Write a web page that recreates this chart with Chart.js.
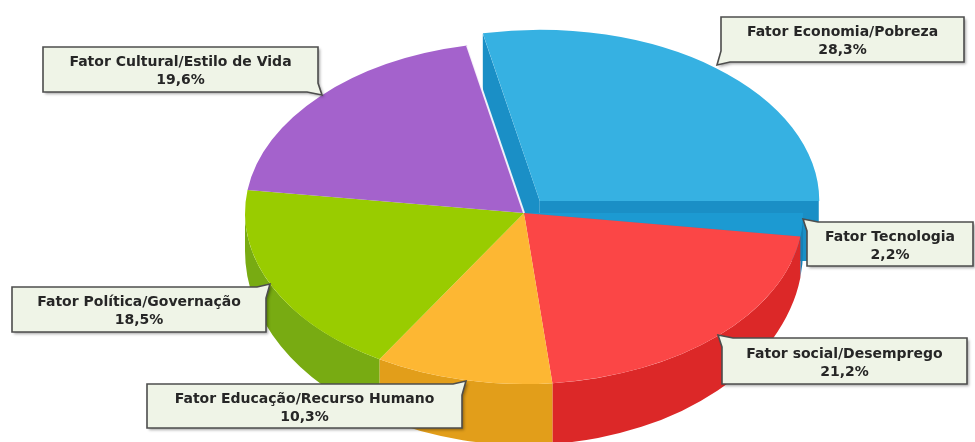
<!DOCTYPE html>
<html lang="pt">
<head>
<meta charset="utf-8">
<title>Fatores</title>
<script src="https://cdn.jsdelivr.net/npm/chart.js@4.4.1/dist/chart.umd.min.js"></script>
<style>
  html, body { margin: 0; padding: 0; background: #fff; }
  #wrap { position: relative; width: 975px; height: 442px; }
</style>
</head>
<body>
<div id="wrap"><canvas id="pieChart"></canvas></div>
<script>
const categories = [
    'Fator Economia/Pobreza',
    'Fator Tecnologia',
    'Fator social/Desemprego',
    'Fator Educação/Recurso Humano',
    'Fator Política/Governação',
    'Fator Cultural/Estilo de Vida'
];
const values = [28.3, 2.2, 21.2, 10.3, 18.5, 19.6];
const explode = [25, 0, 0, 0, 0, 0];

const topColors  = ['#36b1e2', '#1c9ad2', '#fb4646', '#fdb733', '#99cc00', '#a462cc'];
const sideColors = ['#1a8fc6', '#1580b5', '#dc2828', '#e29e1a', '#78ab12', '#8346ad'];

// caixas das etiquetas: posição, tamanho e canto com a ponta
const callouts = [
    { x: 721, y: 17,  w: 243, h: 45, tail: 'bl' },
    { x: 807, y: 222, w: 166, h: 44, tail: 'tl' },
    { x: 722, y: 338, w: 245, h: 46, tail: 'tl' },
    { x: 147, y: 384, w: 315, h: 44, tail: 'tr' },
    { x: 12,  y: 287, w: 254, h: 45, tail: 'tr' },
    { x: 43,  y: 47,  w: 275, h: 45, tail: 'br' }
];

const total = values.reduce((a, b) => a + b, 0);
const fmt = v => v.toFixed(1).replace('.', ',') + '%';
const TAU = Math.PI * 2;

const shiftOf = arc => {
    const off = (arc.options.offset || 0) / 4;
    const mid = (arc.startAngle + arc.endAngle) / 2;
    return { dx: Math.cos(mid) * off, dy: Math.sin(mid) * off };
};

// paredes laterais + inclinação do topo (efeito 3D)
const pie3d = {
    id: 'pie3d',
    beforeDatasetsDraw(chart, args, o) {
        const ctx = chart.ctx;
        const arcs = chart.getDatasetMeta(0).data;
        const cx = arcs[0].x, cy = arcs[0].y;
        const k = o.tilt, k2 = o.tiltBase;

        // faces radiais das fatias destacadas
        arcs.forEach((arc, i) => {
            const s = shiftOf(arc);
            if (!s.dx && !s.dy) return;
            const r = arc.outerRadius;
            const ex = arc.x + s.dx, ey = cy + k * s.dy;
            ctx.fillStyle = sideColors[i];
            [arc.startAngle, arc.endAngle].forEach((a, j) => {
                const facing = j === 0 ? -Math.cos(a) : Math.cos(a);
                if (facing <= 0) return;
                const rx = ex + r * Math.cos(a), ry = ey + k * r * Math.sin(a);
                ctx.beginPath();
                ctx.moveTo(ex, ey);
                ctx.lineTo(rx, ry);
                ctx.lineTo(rx, ry + o.wallDepth);
                ctx.lineTo(ex, ey + o.wallDepth);
                ctx.closePath();
                ctx.fill();
            });
        });

        // parede externa (só a metade da frente)
        arcs.forEach((arc, i) => {
            const s = shiftOf(arc);
            const r = arc.outerRadius;
            const ex = arc.x + s.dx, ey = cy + k * s.dy;
            let a0 = arc.startAngle % TAU;
            if (a0 < 0) a0 += TAU;
            const a1 = a0 + (arc.endAngle - arc.startAngle);
            [[0, Math.PI], [TAU, TAU + Math.PI]].forEach(([lo, hi]) => {
                const from = Math.max(a0, lo), to = Math.min(a1, hi);
                if (to - from < 1e-4) return;
                ctx.beginPath();
                ctx.ellipse(ex, ey, r, k * r, 0, from, to, false);
                ctx.ellipse(ex, ey + o.depth, r, k2 * r, 0, to, from, true);
                ctx.closePath();
                ctx.fillStyle = sideColors[i];
                ctx.fill();
            });
        });

        ctx.save();
        ctx.translate(cx, cy);
        ctx.scale(1, k);
        ctx.translate(-cx, -cy);
    },
    afterDatasetsDraw(chart) {
        const ctx = chart.ctx;
        // filete claro onde a fatia destacada se separa da vizinha
        chart.getDatasetMeta(0).data.forEach(arc => {
            const s = shiftOf(arc);
            const a = arc.startAngle;
            if ((!s.dx && !s.dy) || -Math.cos(a) <= 0) return;
            ctx.beginPath();
            ctx.moveTo(arc.x, arc.y);
            ctx.lineTo(arc.x + arc.outerRadius * Math.cos(a), arc.y + arc.outerRadius * Math.sin(a));
            ctx.strokeStyle = 'rgba(255,255,255,0.9)';
            ctx.lineWidth = 2;
            ctx.stroke();
        });
        ctx.restore();
    }
};

function calloutPath(ctx, b) {
    const pts = [[b.x, b.y], [b.x + b.w, b.y], [b.x + b.w, b.y + b.h], [b.x, b.y + b.h]];
    const idx = { tl: 0, tr: 1, br: 2, bl: 3 }[b.tail];
    ctx.beginPath();
    pts.forEach((c, i) => {
        if (i !== idx) {
            i === 0 ? ctx.moveTo(c[0], c[1]) : ctx.lineTo(c[0], c[1]);
            return;
        }
        const p = pts[(i + 3) % 4], n = pts[(i + 1) % 4];
        const u = (a, d) => {
            const len = Math.hypot(a[0] - c[0], a[1] - c[1]);
            return [c[0] + (a[0] - c[0]) / len * d, c[1] + (a[1] - c[1]) / len * d];
        };
        const before = u(p, 9), after = u(n, 11);
        const sx = (i === 1 || i === 2) ? 1 : -1;
        const sy = (i >= 2) ? 1 : -1;
        i === 0 ? ctx.moveTo(before[0], before[1]) : ctx.lineTo(before[0], before[1]);
        ctx.lineTo(c[0] + sx * 4, c[1] + sy * 3);
        ctx.lineTo(after[0], after[1]);
    });
    ctx.closePath();
}

const calloutLabels = {
    id: 'calloutLabels',
    afterDraw(chart) {
        const ctx = chart.ctx;
        callouts.forEach((b, i) => {
            ctx.save();
            calloutPath(ctx, b);
            ctx.shadowColor = 'rgba(0,0,0,0.35)';
            ctx.shadowBlur = 3;
            ctx.shadowOffsetX = 2;
            ctx.shadowOffsetY = 2;
            ctx.fillStyle = '#eff4e7';
            ctx.fill();
            ctx.shadowColor = 'transparent';
            ctx.lineWidth = 1.6;
            ctx.strokeStyle = '#4d4d4d';
            ctx.stroke();

            ctx.fillStyle = '#262626';
            ctx.font = 'bold 14px "DejaVu Sans"';
            ctx.textAlign = 'center';
            ctx.textBaseline = 'alphabetic';
            const mx = b.x + b.w / 2, my = b.y + b.h / 2;
            ctx.fillText(categories[i], mx, my - 3.5);
            ctx.fillText(fmt(values[i]), mx, my + 14.5);
            ctx.restore();
        });
    }
};

new Chart(document.getElementById('pieChart'), {
    type: 'pie',
    data: {
        labels: categories,
        datasets: [{
            data: values,
            backgroundColor: topColors,
            borderWidth: 0,
            offset: explode.map(v => v * 4),
            clip: false
        }]
    },
    options: {
        responsive: true,
        maintainAspectRatio: false,
        animation: false,
        events: [],
        rotation: 90 - values[0] / total * 360,
        radius: 279,
        layout: { padding: { left: 73, right: 0, top: 0, bottom: 16 } },
        plugins: {
            legend: { display: false },
            tooltip: { enabled: false },
            pie3d: { tilt: 0.613, tiltBase: 0.695, depth: 38, wallDepth: 60 }
        }
    },
    plugins: [pie3d, calloutLabels]
});
</script>
</body>
</html>
